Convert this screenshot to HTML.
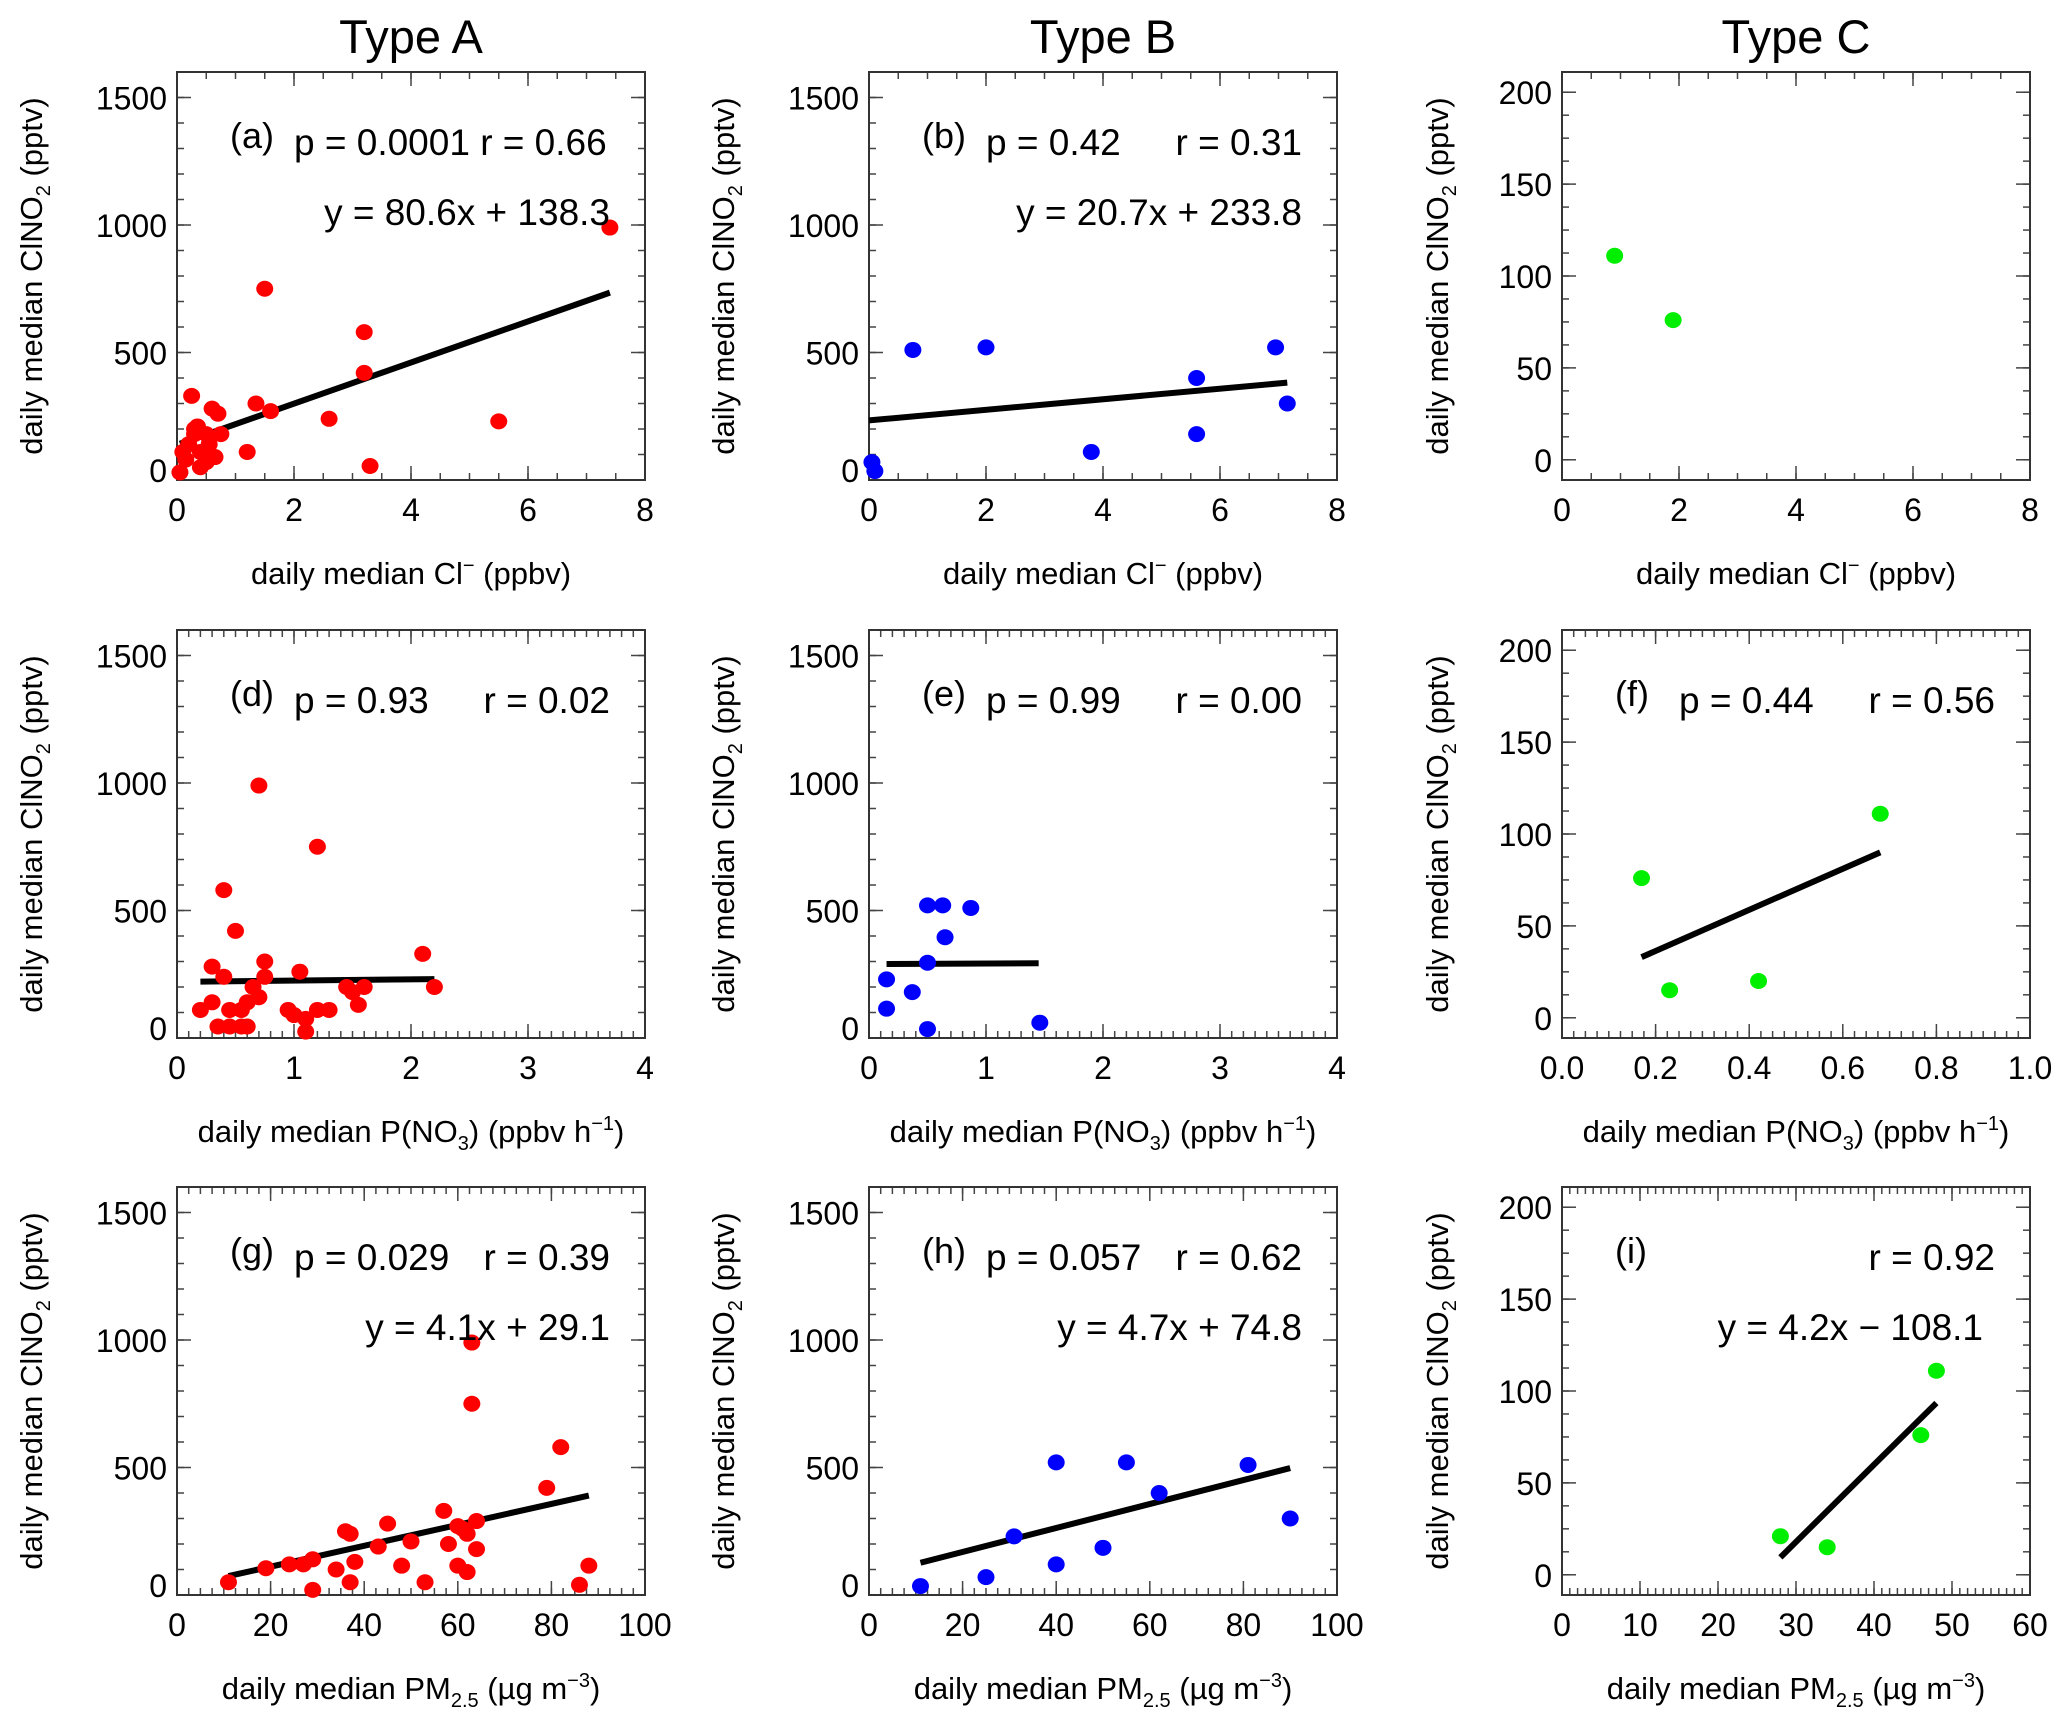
<!DOCTYPE html>
<html><head><meta charset="utf-8"><style>
html,body{margin:0;padding:0;background:#fff}
svg{display:block;font-family:"Liberation Sans",sans-serif}
</style></head><body>
<svg id="fig" width="2067" height="1723" viewBox="0 0 2067 1723" xmlns="http://www.w3.org/2000/svg"></svg>
<script>
// ---- data ----
const aX=[0.05,0.15,0.1,0.2,0.25,0.3,0.3,0.35,0.4,0.4,0.5,0.5,0.55,0.6,0.65,0.7,0.75,1.2,1.35,1.5,1.6,2.6,3.2,3.2,3.3,5.5,7.4];
const aY=[30,80,110,140,330,200,180,210,110,50,70,180,140,280,90,260,180,110,300,750,270,240,580,420,55,230,990];
const bX=[0.05,0.1,0.75,2.0,3.8,5.6,5.6,6.95,7.15];
const bY=[70,35,510,520,110,400,180,520,300];
const cX=[0.9,1.9];
const cY=[111,76];
const dX=[0.2,0.3,0.3,0.35,0.4,0.4,0.45,0.45,0.5,0.55,0.55,0.6,0.6,0.65,0.7,0.7,0.75,0.75,0.95,1.0,1.05,1.1,1.1,1.2,1.2,1.3,1.45,1.5,1.55,1.6,2.1,2.2];
const dY=[110,140,280,45,240,580,110,45,420,45,110,140,45,200,990,160,300,240,110,90,260,25,75,750,110,110,200,180,130,200,330,200];
const eX=[0.15,0.15,0.37,0.5,0.5,0.5,0.63,0.65,0.87,1.46];
const eY=[230,115,180,520,295,35,520,395,510,60];
const fX=[0.17,0.23,0.42,0.68];
const fY=[76,15,20,111];
const gX=[11,19,24,27,29,29,34,36,37,37,38,43,45,48,50,53,57,58,60,60,61,62,62,63,63,64,64,79,82,86,88];
const gY=[50,105,120,120,20,140,100,250,240,50,130,190,280,115,210,50,330,200,115,270,260,90,240,990,750,180,290,420,580,40,115];
const hX=[11,25,31,40,40,50,55,62,81,90];
const hY=[35,70,230,520,120,185,520,400,510,300];
const iX=[28,34,46,48];
const iY=[21,15,76,111];
// fit lines: slope, intercept, x-start, x-end
const fitA=[80.6,138.3,0.05,7.4];
const fitB=[20.7,233.8,0.0,7.15];
const fitD=[5,220,0.2,2.2];
const fitE=[2,290,0.15,1.45];
const fitF=[111.8,14,0.17,0.68];
const fitG=[4.1,29.1,11,88];
const fitH=[4.7,74.8,11,90];
const fitI=[4.2,-108.1,28,48];
const ticksABy=[0,500,1000,1500];
const ticksCy=[0,50,100,150,200];
const ticksCl=[0,2,4,6,8];
const ticksP=[0,1,2,3,4];
const ticksPf=["0.0","0.2","0.4","0.6","0.8","1.0"];
const ticksPM=[0,20,40,60,80,100];
const ticksPMc=[0,10,20,30,40,50,60];

const NS="http://www.w3.org/2000/svg";
const svg=document.getElementById('fig');
function el(tag,attrs,parent,txt){const e=document.createElementNS(NS,tag);for(const k in attrs)e.setAttribute(k,attrs[k]);if(txt!==undefined)e.textContent=txt;(parent||svg).appendChild(e);return e;}

const colL=[177,869,1562], W=468, rowT=[72,630,1187], H=408;
const RED="#ff0000",BLUE="#0000ff",GREEN="#00ee00";

["Type A","Type B","Type C"].forEach((t,i)=>{
  const e=el('text',{x:colL[i]+W/2,y:53,'text-anchor':'middle','font-size':47},svg,t);
  
  
});

function panel(o){
  const g=el('g',{});
  
  
  const L=colL[o.c],T=rowT[o.r],R=L+W,B=T+H;
  const sx=v=>L+(v-o.xr[0])/(o.xr[1]-o.xr[0])*W;
  const sy=v=>B-(v-o.yr[0])/(o.yr[1]-o.yr[0])*H;
  for(let v=o.xr[0];v<=o.xr[1]+1e-9;v+=o.xmin){const x=sx(v);
    el('line',{x1:x,y1:B,x2:x,y2:B-7,stroke:'#444','stroke-width':1.5},g);
    el('line',{x1:x,y1:T,x2:x,y2:T+7,stroke:'#444','stroke-width':1.5},g);}
  for(let v=o.ymin0;v<=o.yr[1]+1e-9;v+=o.ymin){if(v<o.yr[0])continue;const y=sy(v);
    el('line',{x1:L,y1:y,x2:L+7,y2:y,stroke:'#444','stroke-width':1.5},g);
    el('line',{x1:R,y1:y,x2:R-7,y2:y,stroke:'#444','stroke-width':1.5},g);}
  o.xt.forEach(t=>{const v=parseFloat(t);const x=sx(v);
    el('line',{x1:x,y1:B,x2:x,y2:B-14,stroke:'#444','stroke-width':1.5},g);
    el('line',{x1:x,y1:T,x2:x,y2:T+14,stroke:'#444','stroke-width':1.5},g);
    const e=el('text',{x:x,y:B+41,'text-anchor':'middle','font-size':32},g,String(t));
    
    });
  o.yt.forEach(v=>{const y=sy(v);
    el('line',{x1:L,y1:y,x2:L+14,y2:y,stroke:'#444','stroke-width':1.5},g);
    el('line',{x1:R,y1:y,x2:R-14,y2:y,stroke:'#444','stroke-width':1.5},g);
    const cy=Math.min(y,B-10);
    const e=el('text',{x:L-10,y:cy+12,'text-anchor':'end','font-size':32},g,String(v));
    
    });
  const box=el('rect',{x:L,y:T,width:W,height:H,fill:'none',stroke:'#333','stroke-width':2},g);
  
  
  if(o.fit){const f=o.fit;
    const ln=el('line',{x1:sx(f[2]),y1:sy(f[0]*f[2]+f[1]),x2:sx(f[3]),y2:sy(f[0]*f[3]+f[1]),stroke:'#000','stroke-width':6},g);
    
    }
  o.X.forEach((xv,k)=>{
    const c=el('ellipse',{cx:sx(xv),cy:sy(o.Y[k]),rx:8.5,ry:8,fill:o.col},g);
    
    });
  if(!o.noLabel){
    const lab=el('text',{x:L+53,y:T+76,'font-size':36},g,'('+o.id+')');
    
    }
  if(o.p){const e=el('text',{x:L+117,y:T+83,'font-size':37},g,o.p);
    
    }
  if(o.rr){const e=el('text',{x:R-35,y:T+83,'font-size':37,'text-anchor':'end'},g,o.rr);
    
    }
  if(o.eq){const e=el('text',{x:R-35-(o.eqOff||0),y:T+153,'font-size':37,'text-anchor':'end'},g,o.eq);
    
    }
  const yx=L-(o.c==2?125:146), yc=T+H/2;
  const yl=el('text',{x:yx,y:yc,'text-anchor':'middle','font-size':31,transform:`rotate(-90 ${yx} ${yc}) translate(0 11)`},g);
  
  
  yl.innerHTML='daily median ClNO<tspan font-size="20" dy="8">2</tspan><tspan dy="-8"> (pptv)</tspan>';
  const xl=el('text',{x:L+W/2,y:B+104,'text-anchor':'middle','font-size':31},g);
  
  
  xl.innerHTML=o.xlab;
}
const clLab='daily median Cl<tspan font-size="20" dy="-12">−</tspan><tspan dy="12"> (ppbv)</tspan>';
const pLab='daily median P(NO<tspan font-size="20" dy="8">3</tspan><tspan dy="-8">) (ppbv h</tspan><tspan font-size="20" dy="-12">−1</tspan><tspan dy="12">)</tspan>';
const pmLab='daily median PM<tspan font-size="20" dy="8">2.5</tspan><tspan dy="-8"> (µg m</tspan><tspan font-size="20" dy="-12">−3</tspan><tspan dy="12">)</tspan>';
const abY=[0,1600],cYr=[-11,211];
panel({id:'a',r:0,c:0,X:aX,Y:aY,col:RED,xr:[0,8],yr:abY,xt:ticksCl,yt:ticksABy,xmin:0.5,ymin:100,ymin0:0,fit:fitA,p:'p = 0.0001 r = 0.66',eq:'y = 80.6x + 138.3',xlab:clLab});
panel({id:'b',r:0,c:1,X:bX,Y:bY,col:BLUE,xr:[0,8],yr:abY,xt:ticksCl,yt:ticksABy,xmin:0.5,ymin:100,ymin0:0,fit:fitB,p:'p = 0.42',rr:'r = 0.31',eq:'y = 20.7x + 233.8',xlab:clLab});
panel({id:'c',r:0,c:2,X:cX,Y:cY,col:GREEN,xr:[0,8],yr:cYr,xt:ticksCl,yt:ticksCy,xmin:0.5,ymin:12.5,ymin0:0,xlab:clLab,noLabel:true});
panel({id:'d',r:1,c:0,X:dX,Y:dY,col:RED,xr:[0,4],yr:abY,xt:ticksP,yt:ticksABy,xmin:0.1,ymin:100,ymin0:0,fit:fitD,p:'p = 0.93',rr:'r = 0.02',xlab:pLab});
panel({id:'e',r:1,c:1,X:eX,Y:eY,col:BLUE,xr:[0,4],yr:abY,xt:ticksP,yt:ticksABy,xmin:0.1,ymin:100,ymin0:0,fit:fitE,p:'p = 0.99',rr:'r = 0.00',xlab:pLab});
panel({id:'f',r:1,c:2,X:fX,Y:fY,col:GREEN,xr:[0,1],yr:cYr,xt:ticksPf,yt:ticksCy,xmin:0.025,ymin:12.5,ymin0:0,fit:fitF,p:'p = 0.44',rr:'r = 0.56',xlab:pLab});
panel({id:'g',r:2,c:0,X:gX,Y:gY,col:RED,xr:[0,100],yr:abY,xt:ticksPM,yt:ticksABy,xmin:2.5,ymin:100,ymin0:0,fit:fitG,p:'p = 0.029',rr:'r = 0.39',eq:'y = 4.1x + 29.1',xlab:pmLab});
panel({id:'h',r:2,c:1,X:hX,Y:hY,col:BLUE,xr:[0,100],yr:abY,xt:ticksPM,yt:ticksABy,xmin:2.5,ymin:100,ymin0:0,fit:fitH,p:'p = 0.057',rr:'r = 0.62',eq:'y = 4.7x + 74.8',xlab:pmLab});
panel({id:'i',r:2,c:2,X:iX,Y:iY,col:GREEN,xr:[0,60],yr:cYr,xt:ticksPMc,yt:ticksCy,xmin:1,ymin:12.5,ymin0:0,fit:fitI,rr:'r = 0.92',eq:'y = 4.2x − 108.1',eqOff:12,xlab:pmLab});
</script>
</body></html>
